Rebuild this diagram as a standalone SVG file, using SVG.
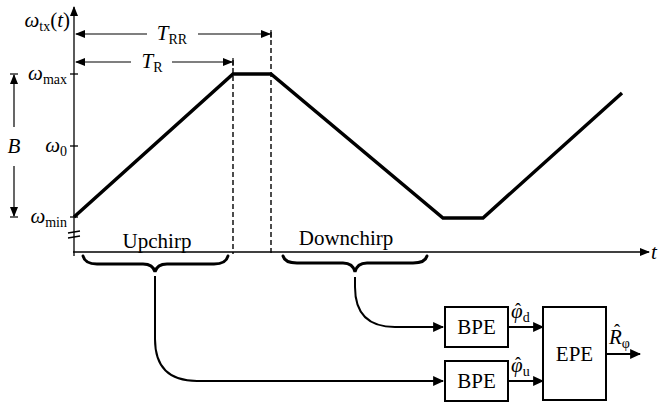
<svg xmlns="http://www.w3.org/2000/svg" width="659" height="407" viewBox="0 0 659 407">
<defs>
<marker id="ah" viewBox="0 0 10 10" refX="9" refY="5" markerWidth="10" markerHeight="10" markerUnits="userSpaceOnUse" orient="auto-start-reverse"><path d="M0,1 L10,5 L0,9 Z" fill="#000"/></marker>
<marker id="ahb" viewBox="0 0 10 10" refX="9" refY="5" markerWidth="11" markerHeight="11" markerUnits="userSpaceOnUse" orient="auto-start-reverse"><path d="M0,0.5 L10,5 L0,9.5 Z" fill="#000"/></marker>
</defs>
<style>
.ax{stroke:#000;stroke-width:1.3;fill:none}
.thin{stroke:#000;stroke-width:1.2;fill:none}
.trace{stroke:#000;stroke-width:3.5;fill:none;stroke-linejoin:miter}
.dash{stroke:#000;stroke-width:1.4;stroke-dasharray:5,3;fill:none}
.brace{stroke:#000;stroke-width:3;fill:none;stroke-linecap:round}
.conn{stroke:#000;stroke-width:2;fill:none}
.box{stroke:#000;stroke-width:2;fill:#fff}
.t{font-family:"Liberation Serif",serif;font-size:21px;fill:#000}
.m{font-family:"Liberation Serif",serif;font-style:italic;font-size:21px;fill:#000}
.s{font-style:normal;font-size:14px}
.hat{font-style:normal;font-size:18px}
</style>
<g id="axes">
<line class="ax" x1="74" y1="256" x2="74" y2="7" marker-end="url(#ah)"/>
<line class="ax" x1="73" y1="252" x2="649" y2="252" marker-end="url(#ah)"/>
<line class="ax" x1="70" y1="74" x2="78" y2="74"/>
<line class="ax" x1="70" y1="146" x2="78" y2="146"/>
<line class="ax" x1="70" y1="217" x2="78" y2="217"/>
<line class="ax" x1="68" y1="233" x2="80" y2="231"/>
<line class="ax" x1="68" y1="238" x2="80" y2="236"/>
<text class="m" x="70" y="27" text-anchor="end">ω<tspan class="s" dy="4">tx</tspan><tspan dy="-4" font-style="normal">(</tspan>t<tspan font-style="normal">)</tspan></text>
<text class="m" x="651" y="259" font-size="19">t</text>
<text class="m" x="67" y="80" text-anchor="end">ω<tspan class="s" dy="4">max</tspan></text>
<text class="m" x="67" y="152" text-anchor="end">ω<tspan class="s" dy="4">0</tspan></text>
<text class="m" x="67" y="223" text-anchor="end">ω<tspan class="s" dy="4">min</tspan></text>
</g>
<g id="dimensions">
<line class="dash" x1="233" y1="60" x2="233" y2="254"/>
<line class="dash" x1="271" y1="32" x2="271" y2="254"/>
<line class="thin" x1="147" y1="34" x2="76" y2="34" marker-end="url(#ah)"/>
<line class="thin" x1="198" y1="34" x2="270" y2="34" marker-end="url(#ah)"/>
<line class="thin" x1="271" y1="30" x2="271" y2="38"/>
<text class="m" x="172" y="40" text-anchor="middle">T<tspan class="s" dy="4">RR</tspan></text>
<line class="thin" x1="131" y1="62" x2="76" y2="62" marker-end="url(#ah)"/>
<line class="thin" x1="172" y1="62" x2="232" y2="62" marker-end="url(#ah)"/>
<line class="thin" x1="233" y1="58" x2="233" y2="66"/>
<text class="m" x="152" y="68" text-anchor="middle">T<tspan class="s" dy="4">R</tspan></text>
<line class="thin" x1="14" y1="127" x2="14" y2="75" marker-end="url(#ah)"/>
<line class="thin" x1="10" y1="74" x2="18" y2="74"/>
<line class="thin" x1="14" y1="166" x2="14" y2="216" marker-end="url(#ah)"/>
<line class="thin" x1="10" y1="217" x2="18" y2="217"/>
<text class="m" x="14" y="153" text-anchor="middle">B</text>
</g>
<g id="trace">
<polyline class="trace" points="74,217 233,74 271,74 443,218 483,218 622,93"/>
</g>
<g id="upchirp">
<text class="t" x="157" y="248" text-anchor="middle">Upchirp</text>
<path class="brace" d="M83,256 Q85,264 97,264 L143,264 Q153,264 155,272 Q157,264 167,264 L214,264 Q226,264 228,256"/>
</g>
<g id="downchirp">
<text class="t" x="346" y="245" text-anchor="middle">Downchirp</text>
<path class="brace" d="M283,256 Q285,263 297,263 L343,263 Q353,263 355,272 Q357,263 367,263 L413,263 Q425,263 427,256"/>
</g>
<g id="connectors">
<path class="conn" d="M155,276 L155,339 Q155,381 197,381 L443,381" marker-end="url(#ahb)"/>
<path class="conn" d="M355,277 L355,287 Q355,327 395,327 L443,327" marker-end="url(#ahb)"/>
<line class="conn" x1="508" y1="327" x2="543" y2="327" marker-end="url(#ahb)"/>
<line class="conn" x1="508" y1="381" x2="543" y2="381" marker-end="url(#ahb)"/>
<line class="conn" x1="606" y1="354" x2="640" y2="354" marker-end="url(#ahb)"/>
</g>
<g id="bpe-d">
<rect class="box" x="445" y="307" width="63" height="40"/>
<text class="t" x="476.5" y="334" text-anchor="middle">BPE</text>
<text class="m" x="511" y="318">φ<tspan class="s" dy="4">d</tspan><tspan class="hat" x="518" y="316" text-anchor="middle">ˆ</tspan></text>
</g>
<g id="bpe-u">
<rect class="box" x="445" y="361" width="63" height="40"/>
<text class="t" x="476.5" y="388" text-anchor="middle">BPE</text>
<text class="m" x="511" y="372">φ<tspan class="s" dy="4">u</tspan><tspan class="hat" x="518" y="370" text-anchor="middle">ˆ</tspan></text>
</g>
<g id="epe">
<rect class="box" x="543" y="307" width="63" height="93"/>
<text class="t" x="574.5" y="361" text-anchor="middle">EPE</text>
<text class="m" x="609" y="344">R<tspan class="s" dy="4">φ</tspan><tspan class="hat" x="617" y="337" text-anchor="middle">ˆ</tspan></text>
</g>
</svg>
